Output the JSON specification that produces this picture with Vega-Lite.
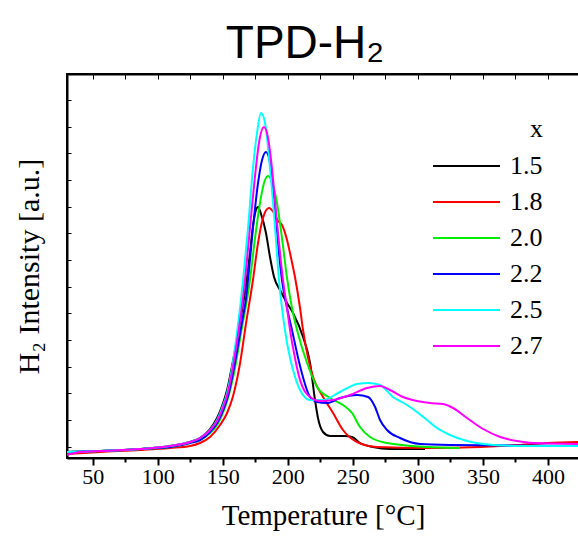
{
"$schema":"https://vega.github.io/schema/vega-lite/v6.json",
"width":512,"height":384,
"autosize":{"type":"none"},
"padding":{"left":67,"top":74,"right":0,"bottom":78},
"config":{"view":{"stroke":"black","strokeWidth":2},"font":"Liberation Serif"},
"title":{"text":"TPD-H₂","font":"Liberation Sans, Arial, sans-serif","fontSize":46,"fontWeight":"normal","color":"black","anchor":"middle","frame":"group","dx":-18,"dy":52,"baseline":"alphabetic","offset":22},
"data":{"values":[
{"s":"1.5","T":30.2,"h":6},{"s":"1.5","T":55.6,"h":7},{"s":"1.5","T":86.4,"h":9},{"s":"1.5","T":109.4,"h":12},{"s":"1.5","T":124.8,"h":16},{"s":"1.5","T":132.5,"h":20},{"s":"1.5","T":140.2,"h":29},{"s":"1.5","T":145.6,"h":40},{"s":"1.5","T":149.4,"h":52},{"s":"1.5","T":153.3,"h":68},{"s":"1.5","T":157.1,"h":92},{"s":"1.5","T":160.9,"h":118},{"s":"1.5","T":164.8,"h":148},{"s":"1.5","T":168.6,"h":180},{"s":"1.5","T":170.9,"h":205},{"s":"1.5","T":173.2,"h":232},{"s":"1.5","T":175.5,"h":248},{"s":"1.5","T":177.1,"h":251},{"s":"1.5","T":179.4,"h":244},{"s":"1.5","T":183.2,"h":225},{"s":"1.5","T":186.3,"h":201},{"s":"1.5","T":189.4,"h":181},{"s":"1.5","T":194.0,"h":168},{"s":"1.5","T":199.4,"h":155},{"s":"1.5","T":204.0,"h":145},{"s":"1.5","T":211.7,"h":121},{"s":"1.5","T":217.1,"h":95},{"s":"1.5","T":220.9,"h":58},{"s":"1.5","T":223.2,"h":40},{"s":"1.5","T":227.1,"h":26},{"s":"1.5","T":232.4,"h":22},{"s":"1.5","T":243.9,"h":22},{"s":"1.5","T":249.4,"h":21},{"s":"1.5","T":255.5,"h":15},{"s":"1.5","T":265.5,"h":11},{"s":"1.5","T":278.6,"h":9},{"s":"1.5","T":305.5,"h":9},
{"s":"1.8","T":30.2,"h":4},{"s":"1.8","T":55.6,"h":6},{"s":"1.8","T":86.4,"h":8},{"s":"1.8","T":109.4,"h":10},{"s":"1.8","T":124.8,"h":12},{"s":"1.8","T":132.5,"h":15},{"s":"1.8","T":140.2,"h":21},{"s":"1.8","T":147.9,"h":33},{"s":"1.8","T":153.3,"h":45},{"s":"1.8","T":157.9,"h":62},{"s":"1.8","T":163.3,"h":95},{"s":"1.8","T":167.9,"h":135},{"s":"1.8","T":173.2,"h":178},{"s":"1.8","T":177.1,"h":215},{"s":"1.8","T":180.9,"h":240},{"s":"1.8","T":185.5,"h":250},{"s":"1.8","T":189.4,"h":245},{"s":"1.8","T":192.5,"h":237},{"s":"1.8","T":195.5,"h":233},{"s":"1.8","T":199.4,"h":218},{"s":"1.8","T":202.5,"h":200},{"s":"1.8","T":205.5,"h":181},{"s":"1.8","T":209.4,"h":150},{"s":"1.8","T":211.7,"h":128},{"s":"1.8","T":215.6,"h":100},{"s":"1.8","T":219.4,"h":81},{"s":"1.8","T":227.1,"h":61},{"s":"1.8","T":234.8,"h":45},{"s":"1.8","T":242.4,"h":28},{"s":"1.8","T":253.2,"h":16},{"s":"1.8","T":268.6,"h":11},{"s":"1.8","T":307.0,"h":10},{"s":"1.8","T":347.8,"h":11},{"s":"1.8","T":378.6,"h":13},{"s":"1.8","T":399.4,"h":15},{"s":"1.8","T":423.5,"h":16},
{"s":"2.0","T":30.2,"h":6},{"s":"2.0","T":55.6,"h":7},{"s":"2.0","T":86.4,"h":9},{"s":"2.0","T":109.4,"h":11},{"s":"2.0","T":124.8,"h":15},{"s":"2.0","T":132.5,"h":18},{"s":"2.0","T":140.2,"h":25},{"s":"2.0","T":145.6,"h":33},{"s":"2.0","T":149.4,"h":43},{"s":"2.0","T":154.0,"h":60},{"s":"2.0","T":159.4,"h":90},{"s":"2.0","T":164.0,"h":125},{"s":"2.0","T":170.9,"h":178},{"s":"2.0","T":174.8,"h":220},{"s":"2.0","T":178.6,"h":255},{"s":"2.0","T":181.7,"h":275},{"s":"2.0","T":184.8,"h":282},{"s":"2.0","T":187.8,"h":276},{"s":"2.0","T":191.7,"h":255},{"s":"2.0","T":195.5,"h":220},{"s":"2.0","T":199.4,"h":180},{"s":"2.0","T":203.2,"h":150},{"s":"2.0","T":207.1,"h":128},{"s":"2.0","T":214.8,"h":95},{"s":"2.0","T":222.5,"h":71},{"s":"2.0","T":232.4,"h":60},{"s":"2.0","T":242.4,"h":53},{"s":"2.0","T":249.4,"h":45},{"s":"2.0","T":255.5,"h":31},{"s":"2.0","T":263.2,"h":21},{"s":"2.0","T":276.3,"h":15},{"s":"2.0","T":307.0,"h":11},{"s":"2.0","T":332.4,"h":10},
{"s":"2.2","T":30.2,"h":6},{"s":"2.2","T":55.6,"h":7},{"s":"2.2","T":86.4,"h":9},{"s":"2.2","T":109.4,"h":11},{"s":"2.2","T":124.8,"h":15},{"s":"2.2","T":132.5,"h":18},{"s":"2.2","T":140.2,"h":26},{"s":"2.2","T":145.6,"h":35},{"s":"2.2","T":149.4,"h":45},{"s":"2.2","T":154.0,"h":62},{"s":"2.2","T":158.6,"h":90},{"s":"2.2","T":163.3,"h":125},{"s":"2.2","T":165.6,"h":142},{"s":"2.2","T":167.9,"h":160},{"s":"2.2","T":169.4,"h":178},{"s":"2.2","T":173.2,"h":230},{"s":"2.2","T":177.1,"h":275},{"s":"2.2","T":180.2,"h":298},{"s":"2.2","T":183.2,"h":306},{"s":"2.2","T":186.3,"h":295},{"s":"2.2","T":190.2,"h":250},{"s":"2.2","T":193.2,"h":205},{"s":"2.2","T":195.5,"h":178},{"s":"2.2","T":199.4,"h":150},{"s":"2.2","T":203.2,"h":128},{"s":"2.2","T":209.4,"h":92},{"s":"2.2","T":217.1,"h":61},{"s":"2.2","T":222.5,"h":56},{"s":"2.2","T":230.1,"h":55},{"s":"2.2","T":240.1,"h":60},{"s":"2.2","T":253.2,"h":63},{"s":"2.2","T":261.7,"h":61},{"s":"2.2","T":267.1,"h":51},{"s":"2.2","T":270.9,"h":38},{"s":"2.2","T":276.3,"h":28},{"s":"2.2","T":286.3,"h":20},{"s":"2.2","T":301.6,"h":14},{"s":"2.2","T":324.7,"h":13},{"s":"2.2","T":423.5,"h":12},
{"s":"2.5","T":30.2,"h":6},{"s":"2.5","T":55.6,"h":7},{"s":"2.5","T":86.4,"h":9},{"s":"2.5","T":109.4,"h":12},{"s":"2.5","T":124.8,"h":16},{"s":"2.5","T":132.5,"h":20},{"s":"2.5","T":140.2,"h":28},{"s":"2.5","T":145.6,"h":38},{"s":"2.5","T":149.4,"h":50},{"s":"2.5","T":153.3,"h":65},{"s":"2.5","T":157.1,"h":90},{"s":"2.5","T":160.9,"h":125},{"s":"2.5","T":165.6,"h":178},{"s":"2.5","T":169.4,"h":230},{"s":"2.5","T":173.2,"h":290},{"s":"2.5","T":176.3,"h":325},{"s":"2.5","T":179.4,"h":345},{"s":"2.5","T":182.5,"h":335},{"s":"2.5","T":186.3,"h":290},{"s":"2.5","T":190.2,"h":230},{"s":"2.5","T":193.2,"h":178},{"s":"2.5","T":197.8,"h":128},{"s":"2.5","T":201.7,"h":100},{"s":"2.5","T":204.0,"h":88},{"s":"2.5","T":209.4,"h":68},{"s":"2.5","T":217.1,"h":58},{"s":"2.5","T":227.1,"h":58},{"s":"2.5","T":240.1,"h":66},{"s":"2.5","T":253.2,"h":74},{"s":"2.5","T":261.7,"h":75},{"s":"2.5","T":270.9,"h":73},{"s":"2.5","T":280.9,"h":61},{"s":"2.5","T":291.7,"h":53},{"s":"2.5","T":299.3,"h":46},{"s":"2.5","T":307.0,"h":38},{"s":"2.5","T":314.7,"h":30},{"s":"2.5","T":324.7,"h":23},{"s":"2.5","T":337.8,"h":17},{"s":"2.5","T":350.2,"h":14},{"s":"2.5","T":378.6,"h":12},{"s":"2.5","T":423.5,"h":12},
{"s":"2.7","T":30.2,"h":3},{"s":"2.7","T":40.2,"h":6},{"s":"2.7","T":55.6,"h":7},{"s":"2.7","T":86.4,"h":9},{"s":"2.7","T":109.4,"h":12},{"s":"2.7","T":124.8,"h":16},{"s":"2.7","T":132.5,"h":20},{"s":"2.7","T":140.2,"h":28},{"s":"2.7","T":145.6,"h":37},{"s":"2.7","T":149.4,"h":48},{"s":"2.7","T":154.0,"h":66},{"s":"2.7","T":157.9,"h":92},{"s":"2.7","T":162.5,"h":130},{"s":"2.7","T":167.1,"h":178},{"s":"2.7","T":170.9,"h":230},{"s":"2.7","T":174.8,"h":282},{"s":"2.7","T":177.8,"h":315},{"s":"2.7","T":181.7,"h":331},{"s":"2.7","T":184.8,"h":320},{"s":"2.7","T":187.8,"h":290},{"s":"2.7","T":191.7,"h":235},{"s":"2.7","T":196.3,"h":178},{"s":"2.7","T":199.4,"h":150},{"s":"2.7","T":201.7,"h":128},{"s":"2.7","T":205.5,"h":100},{"s":"2.7","T":209.4,"h":78},{"s":"2.7","T":217.1,"h":61},{"s":"2.7","T":224.8,"h":57},{"s":"2.7","T":234.8,"h":58},{"s":"2.7","T":247.8,"h":63},{"s":"2.7","T":260.9,"h":70},{"s":"2.7","T":270.9,"h":72},{"s":"2.7","T":278.6,"h":68},{"s":"2.7","T":288.6,"h":61},{"s":"2.7","T":299.3,"h":57},{"s":"2.7","T":309.3,"h":55},{"s":"2.7","T":319.3,"h":54},{"s":"2.7","T":327.1,"h":50},{"s":"2.7","T":337.8,"h":40},{"s":"2.7","T":350.2,"h":29},{"s":"2.7","T":363.3,"h":21},{"s":"2.7","T":376.3,"h":17},{"s":"2.7","T":388.6,"h":15},{"s":"2.7","T":423.5,"h":14}
]},
"layer":[
{"mark":{"type":"line","strokeWidth":2,"interpolate":"monotone","clip":true},
 "encoding":{
  "x":{"field":"T","type":"quantitative","scale":{"domain":[30.2,423.9],"nice":false,"zero":false},
   "axis":{"orient":"bottom","values":[50,100,150,200,250,300,350,400],"tickSize":7,"tickWidth":2,"tickColor":"black","domainColor":"black","domainWidth":2,"labelFont":"Liberation Serif","labelFontSize":22,"labelColor":"black","labelPadding":1,"labelFlush":false,"title":"Temperature [°C]","titleFont":"Liberation Serif","titleFontSize":29,"titleFontWeight":"normal","titleColor":"black","titlePadding":14,"grid":false}},
  "y":{"field":"h","type":"quantitative","scale":{"domain":[0,384],"nice":false,"zero":false},
   "axis":{"orient":"left","values":[11,38,65,91,118,145,171,198,225,251,278,305,331,358],"tickSize":-4,"tickWidth":1,"tickColor":"black","labels":false,"domainColor":"black","domainWidth":2,"title":"H₂ Intensity [a.u.]","titleFont":"Liberation Serif","titleFontSize":30,"titleFontWeight":"normal","titleColor":"black","titlePadding":22,"grid":false}},
  "color":{"field":"s","type":"nominal","scale":{"domain":["1.5","1.8","2.0","2.2","2.5","2.7"],"range":["#000000","#ff0000","#00ee00","#0000ff","#00ffff","#ff00ff"]},
   "legend":{"orient":"none","legendX":365,"legendY":42,"title":"x","titleFont":"Liberation Serif","titleFontSize":26,"titleFontWeight":"normal","titleColor":"black","titleAnchor":"end","titlePadding":6,"labelFont":"Liberation Serif","labelFontSize":26,"labelColor":"black","symbolType":"stroke","symbolSize":4489,"symbolStrokeWidth":2,"clipHeight":36,"rowPadding":0,"labelOffset":9,"padding":0}}
 }},
{"mark":{"type":"point","opacity":0},
 "encoding":{
  "x":{"field":"T","type":"quantitative","axis":{"orient":"bottom","values":[75,125,175,225,275,325,375],"tickSize":4,"tickWidth":2,"tickColor":"black","labels":false,"domain":false,"title":null,"grid":false}}}},
{"mark":{"type":"point","opacity":0},
 "encoding":{
  "x":{"field":"T","type":"quantitative","axis":{"orient":"top","values":[50,75,100,125,150,175,200,225,250,275,300,325,350,375,400],"tickSize":-5,"tickWidth":1,"tickColor":"black","labels":false,"domainColor":"black","domainWidth":2,"title":null,"grid":false}}}}
],
"resolve":{"axis":{"x":"independent"}}
}
